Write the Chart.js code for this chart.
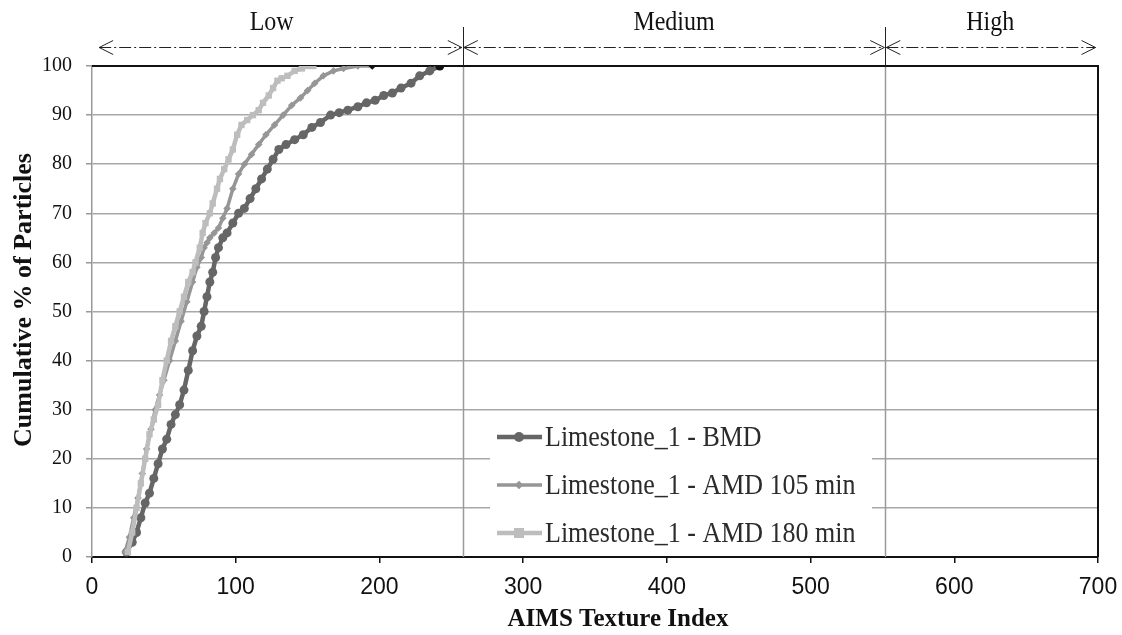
<!DOCTYPE html>
<html><head><meta charset="utf-8">
<script src="https://cdn.jsdelivr.net/npm/chart.js@4.4.0/dist/chart.umd.min.js"></script>
<style>html,body{margin:0;padding:0;background:#fff;}canvas{display:block;}</style>
</head><body>
<canvas id="c" width="1122" height="635"></canvas>
<script>
// ---- data ----
const seriesNames = ['Limestone_1 - BMD', 'Limestone_1 - AMD 105 min', 'Limestone_1 - AMD 180 min'];
const bmdX = [24,28,31,34,37,40,43,46,49,52,55,58,61,64,67,70,73,76,78,80,82,84,86,88,91,94,98,102,106,110,114,118,122,126,130,135,141,147,153,159,166,172,178,185,191,197,203,209,215,222,228,235,242];
const bmdY = [1,3,5,8,11,13,16,19,22,24,27,29,31,34,38,42,45,47,50,53,56,58,61,63,65,66,68,70,71,73,75,77,79,81,83,84,85,86,87.5,88.5,90,90.5,91,91.7,92.5,93,94,94.5,95.5,96.5,98,99,100];
const amd105X = [23,26,29,32,35,38,41,44,47,50,54,58,62,66,70,73,76,78,80,82,85,88,91,94,98,102,106,111,116,121,127,133,139,145,150,155,161,168,175,185,195];
const amd105Y = [1,4,8,12,17,22,26,30,33,36,40,44,48,52,56,59,61,63,64,65,66,67,69,71,75,78,80,82,84,86,88,90,92,93.5,95,96.5,98,99,99.5,100,100];
const amd180X = [25,28,31,34,37,40,43,46,49,52,55,58,61,64,67,70,72,75,77,79,82,84,87,89,92,95,98,101,104,108,112,116,119,123,126,129,132,136,141,146,150,154];
const amd180Y = [1,5,10,15,20,25,28,31,36,40,44,47,50,53,56,58,60,63,66,68,70,72,75,77,79,81,83,86,88,89,90,91,92.5,94,95.5,97,97.5,98,99,99.5,100,100];
const xTickValues = [0,100,200,300,400,500,600,700];
const yTickValues = [0,10,20,30,40,50,60,70,80,90,100];
const zoneLabels = ['Low','Medium','High'];
const zoneStart = [5, 258, 552];
const zoneEnd = [258, 552, 699];
const zoneLabelX = [125, 405, 625];
const xTitle = 'AIMS Texture Index';
const yTitle = 'Cumulative % of Particles';

// ---- styles ----
const colors = ['#666666', '#969696', '#bdbdbd'];
const styles = ['circle', 'rectRot', 'rect'];
const radii = [4.5, 3.8, 4.5];
const widths = [4.5, 3.5, 4.5];

function pts(xs, ys){ return xs.map((x,i)=>({x:x, y:ys[i]})); }
const allData = [pts(bmdX,bmdY), pts(amd105X,amd105Y), pts(amd180X,amd180Y)];

const datasets = allData.map((d,k)=>({
  label: seriesNames[k],
  data: d,
  showLine: true,
  borderColor: colors[k],
  backgroundColor: colors[k],
  borderWidth: widths[k],
  pointStyle: styles[k],
  pointRadius: radii[k],
  pointBorderWidth: 0,
  pointBackgroundColor: (ctx)=> (k<2 && ctx.dataIndex === d.length-1) ? '#111' : colors[k],
  order: 3-k
}));

const serif = '"Liberation Serif", "Times New Roman", serif';

const decor = {
  id: 'decor',
  beforeDatasetsDraw(chart){
    const {ctx, chartArea:a, scales:{x,y}} = chart;
    ctx.save();
    ctx.strokeStyle = '#9a9a9a'; ctx.lineWidth = 1.5;
    [zoneStart[1], zoneStart[2]].forEach(v=>{
      const px = Math.round(x.getPixelForValue(v))+0.5;
      ctx.beginPath(); ctx.moveTo(px, a.top); ctx.lineTo(px, a.bottom); ctx.stroke();
    });
    ctx.strokeStyle = '#111'; ctx.lineWidth = 2;
    ctx.beginPath(); ctx.moveTo(a.left, a.top); ctx.lineTo(a.right, a.top); ctx.lineTo(a.right, a.bottom); ctx.stroke();
    ctx.restore();
  },
  afterDatasetsDraw(chart){
    const {ctx} = chart;
    ctx.save();
    ctx.fillStyle = '#ffffff';
    ctx.fillRect(490, 413, 382, 141);
    const ys = [437, 485, 533];
    for(let k=0;k<3;k++){
      ctx.strokeStyle = colors[k]; ctx.lineWidth = widths[k];
      ctx.beginPath(); ctx.moveTo(497, ys[k]); ctx.lineTo(542, ys[k]); ctx.stroke();
      ctx.fillStyle = colors[k];
      const r = radii[k]+0.5, cx = 519, cy = ys[k];
      ctx.beginPath();
      if(k===0){ ctx.arc(cx, cy, r, 0, Math.PI*2); }
      else if(k===1){ ctx.moveTo(cx, cy-r); ctx.lineTo(cx+r, cy); ctx.lineTo(cx, cy+r); ctx.lineTo(cx-r, cy); ctx.closePath(); }
      else { ctx.rect(cx-r, cy-r, 2*r, 2*r); }
      ctx.fill();
      ctx.save();
      ctx.translate(545, ys[k]);
      ctx.scale(1, 1.12);
      ctx.fillStyle = '#2b2b2b';
      ctx.font = '26px ' + serif;
      ctx.textAlign = 'left'; ctx.textBaseline = 'middle';
      ctx.fillText(seriesNames[k], 0, 1);
      ctx.restore();
    }
    ctx.restore();
  },
  afterDraw(chart){
    const {ctx, chartArea:a, scales:{x}} = chart;
    ctx.save();
    ctx.strokeStyle = '#222'; ctx.lineWidth = 1;
    [zoneStart[1], zoneStart[2]].forEach(v=>{
      const px = Math.round(x.getPixelForValue(v))+0.5;
      ctx.beginPath(); ctx.moveTo(px, 27); ctx.lineTo(px, a.top); ctx.stroke();
    });
    const ay = 47.5;
    for(let i=0;i<3;i++){
      const x1 = x.getPixelForValue(zoneStart[i]) + (i>0?1:0);
      const x2 = x.getPixelForValue(zoneEnd[i]) - 1;
      ctx.strokeStyle = '#222'; ctx.lineWidth = 1;
      ctx.setLineDash([12,3,2,3]);
      ctx.beginPath(); ctx.moveTo(x1, ay); ctx.lineTo(x2, ay); ctx.stroke();
      ctx.setLineDash([]);
      ctx.beginPath();
      ctx.moveTo(x1+14, ay-7); ctx.lineTo(x1, ay); ctx.lineTo(x1+14, ay+7);
      ctx.moveTo(x2-14, ay-7); ctx.lineTo(x2, ay); ctx.lineTo(x2-14, ay+7);
      ctx.stroke();
      ctx.save();
      ctx.translate(x.getPixelForValue(zoneLabelX[i]), 23);
      ctx.scale(1, 1.1);
      ctx.fillStyle = '#111';
      ctx.font = '24px ' + serif;
      ctx.textAlign = 'center'; ctx.textBaseline = 'middle';
      ctx.fillText(zoneLabels[i], 0, 0);
      ctx.restore();
    }
    ctx.fillStyle = '#111';
    ctx.font = 'bold 25px ' + serif;
    ctx.textAlign = 'center'; ctx.textBaseline = 'middle';
    ctx.fillText(xTitle, 618, 620);
    ctx.save();
    ctx.translate(24, 300);
    ctx.rotate(-Math.PI/2);
    ctx.font = 'bold 26px ' + serif;
    ctx.fillText(yTitle, 0, 0);
    ctx.restore();
    ctx.restore();
  }
};

new Chart(document.getElementById('c'), {
  type: 'scatter',
  data: { datasets },
  options: {
    responsive: false,
    animation: false,
    devicePixelRatio: 1,
    layout: { padding: { top: 66, right: 24, left: 0, bottom: 0 } },
    plugins: { legend: { display: false }, tooltip: { enabled: false } },
    scales: {
      x: {
        type: 'linear', min: 0, max: 700,
        afterBuildTicks: (s)=>{ s.ticks = xTickValues.map(v=>({value:v})); },
        afterFit: (s)=>{ s.height = 78; s.paddingLeft = 0; s.paddingRight = 0; },
        grid: { drawOnChartArea: false, drawTicks: true, tickLength: 6, color: '#111', lineWidth: 1.5 },
        border: { color: '#111', width: 2 },
        ticks: { color: '#111', padding: 11, maxRotation: 0,
          font: { family: '"Liberation Sans", Arial, sans-serif', size: 23 } },
        title: { display: false }
      },
      y: {
        type: 'linear', min: 0, max: 100,
        afterBuildTicks: (s)=>{ s.ticks = yTickValues.map(v=>({value:v})); },
        afterFit: (s)=>{ s.width = 92; },
        grid: { color: '#a8a8a8', lineWidth: 1.5, tickLength: 6, tickColor: '#999' },
        border: { color: '#999', width: 1.5 },
        ticks: { color: '#111', padding: 14, font: { family: serif, size: 20 } },
        title: { display: false }
      }
    }
  },
  plugins: [decor]
});
</script>
</body></html>
